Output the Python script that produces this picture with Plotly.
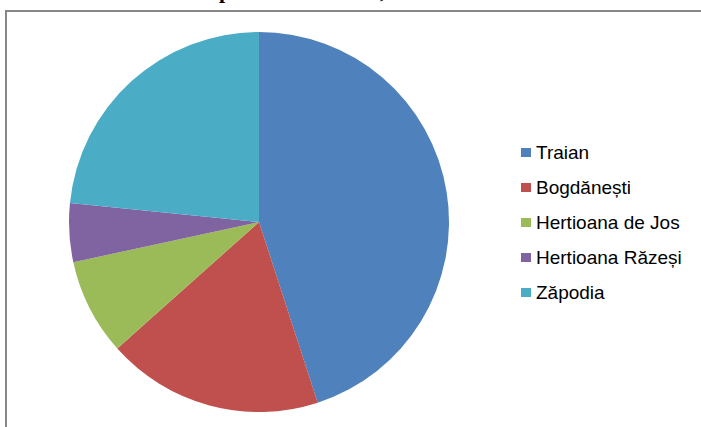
import plotly.graph_objects as go

labels = ["Traian", "Bogdănești", "Hertioana de Jos", "Hertioana Răzeși", "Zăpodia"]
values = [45.0, 18.4, 8.2, 5.0, 23.4]
colors = ["#4F81BD", "#C0504D", "#9BBB59", "#8064A2", "#4BACC6"]

W, H = 701, 427
cx, cy, r = 259, 222, 190

fig = go.Figure(go.Pie(
    labels=labels, values=values, sort=False, direction="clockwise", rotation=0,
    marker=dict(colors=colors, line=dict(width=0)),
    textinfo="none", hoverinfo="label+percent", showlegend=False,
    domain=dict(x=[(cx - r) / W, (cx + r) / W], y=[(H - cy - r) / H, (H - cy + r) / H]),
))

shapes = [dict(type="rect", xref="paper", yref="paper",
               x0=6 / W, x1=1.05, y0=-0.05, y1=1 - 11 / H,
               line=dict(color="#868686", width=2), fillcolor="rgba(0,0,0,0)", layer="below")]
annotations = []
leg_x, leg_y0, leg_dy = 526, 152.5, 35
for i, (lab, col) in enumerate(zip(labels, colors)):
    yy = leg_y0 + i * leg_dy
    shapes.append(dict(type="rect", xref="paper", yref="paper",
                       x0=(leg_x - 5) / W, x1=(leg_x + 5) / W,
                       y0=(H - yy - 4.5) / H, y1=(H - yy + 4.5) / H,
                       fillcolor=col, line=dict(width=0)))
    annotations.append(dict(text=lab, xref="paper", yref="paper", x=(leg_x + 8) / W, y=(H - yy) / H,
                            xanchor="left", yanchor="middle", showarrow=False,
                            font=dict(family="Liberation Sans, Arial", size=19, color="#000000")))

# cut-off title fragments at the very top
for t, xpos in [("p", 225), (",", 383)]:
    annotations.append(dict(text="<b>" + t + "</b>", xref="paper", yref="paper", x=xpos / W, y=1,
                            xanchor="center", yanchor="bottom", yshift=-5, showarrow=False,
                            font=dict(family="Liberation Serif, Times New Roman", size=22, color="#000000")))

fig.update_layout(width=W, height=H, margin=dict(l=0, r=0, t=0, b=0),
                  paper_bgcolor="white", plot_bgcolor="white",
                  shapes=shapes, annotations=annotations)
fig.write_html("out.html", config={"displayModeBar": False},
               post_script="document.body.style.margin='0';document.body.style.padding='0';")
